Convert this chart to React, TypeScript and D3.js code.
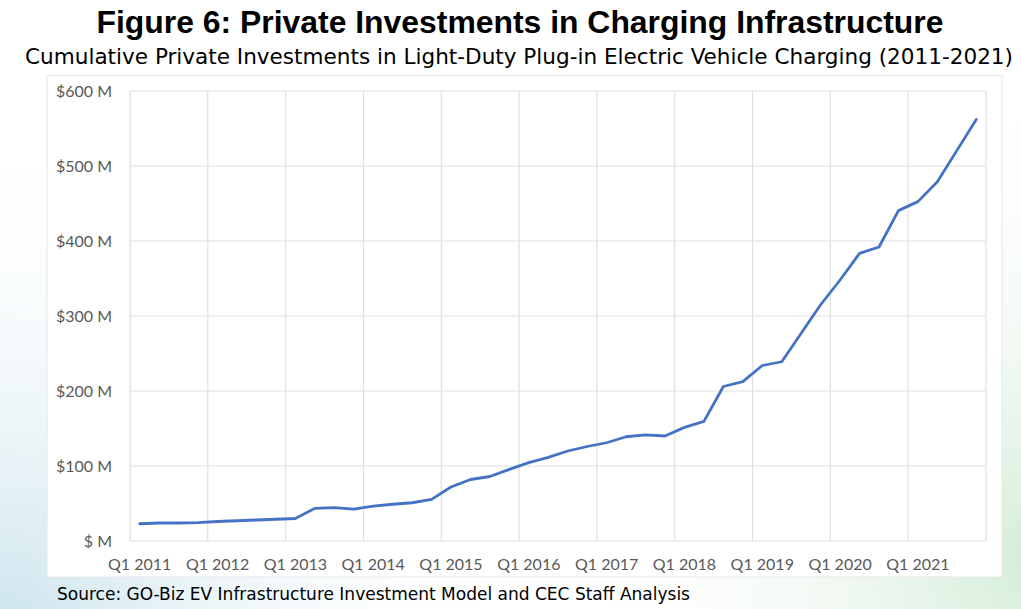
import React, { useEffect, useRef } from "react";
import * as d3 from "d3";

// Chart text
const title = "Figure 6: Private Investments in Charging Infrastructure";
const subtitle =
  "Cumulative Private Investments in Light-Duty Plug-in Electric Vehicle Charging (2011-2021)";
const source = "Source: GO-Biz EV Infrastructure Investment Model and CEC Staff Analysis";

// Years and quarters on the x axis
const years = [2011, 2012, 2013, 2014, 2015, 2016, 2017, 2018, 2019, 2020, 2021];
const quarters = ["Q1", "Q2", "Q3", "Q4"];

// Cumulative investment, $M, one value per quarter (Q1 2011 .. Q4 2021)
const investment = [
  23, 24, 24, 24.5,
  26, 27, 28, 29,
  30, 43.5, 44.5, 42.5,
  46.5, 49, 51, 55.5,
  72, 82, 86, 95.5,
  104.5, 111.5, 120, 126,
  131, 139, 141.5, 140,
  151.5, 159.5, 206, 212.5,
  234, 239, 277, 315,
  348, 383.5, 392, 440.5,
  452.5, 479, 520.5, 562,
];

// Y axis ticks
const yTicks = [0, 100, 200, 300, 400, 500, 600];

const App = () => {
  const ref = useRef<SVGSVGElement>(null);

  useEffect(() => {
    const width = 1021;
    const height = 609;

    const svg = d3.select(ref.current);
    svg.selectAll("*").remove();
    svg.attr("width", width).attr("height", height);

    // Soft page background (teal bottom-left, green right)
    const defs = svg.append("defs");
    const g1 = defs.append("radialGradient")
      .attr("id", "bgLeft")
      .attr("gradientUnits", "userSpaceOnUse")
      .attr("cx", 0).attr("cy", 640).attr("r", 520);
    g1.append("stop").attr("offset", "0%").attr("stop-color", "#c9e3ec").attr("stop-opacity", 1);
    g1.append("stop").attr("offset", "100%").attr("stop-color", "#ffffff").attr("stop-opacity", 0);
    const g2 = defs.append("radialGradient")
      .attr("id", "bgRight")
      .attr("gradientUnits", "userSpaceOnUse")
      .attr("cx", 1040).attr("cy", 560).attr("r", 480);
    g2.append("stop").attr("offset", "0%").attr("stop-color", "#d3ecd8").attr("stop-opacity", 1);
    g2.append("stop").attr("offset", "100%").attr("stop-color", "#ffffff").attr("stop-opacity", 0);

    svg.append("rect").attr("width", width).attr("height", height).attr("fill", "#ffffff");
    svg.append("rect").attr("width", width).attr("height", height).attr("fill", "url(#bgLeft)");
    svg.append("rect").attr("width", width).attr("height", height).attr("fill", "url(#bgRight)");

    // Titles
    svg.append("text")
      .attr("x", 520).attr("y", 33)
      .attr("text-anchor", "middle")
      .attr("font-family", "'Liberation Sans', Arial, sans-serif")
      .attr("font-weight", "bold")
      .attr("font-size", 31)
      .attr("textLength", 847)
      .attr("lengthAdjust", "spacingAndGlyphs")
      .attr("fill", "#000")
      .text(title);

    svg.append("text")
      .attr("x", 519).attr("y", 64)
      .attr("text-anchor", "middle")
      .attr("font-family", "'DejaVu Sans Condensed', 'DejaVu Sans', sans-serif")
      .attr("font-size", 21.5)
      .attr("textLength", 988)
      .attr("lengthAdjust", "spacingAndGlyphs")
      .attr("fill", "#000")
      .text(subtitle);

    // Chart box
    svg.append("rect")
      .attr("x", 47).attr("y", 75.5)
      .attr("width", 955).attr("height", 501.5)
      .attr("fill", "#ffffff")
      .attr("stroke", "#e6e6e6")
      .attr("stroke-width", 1);

    const left = 130, right = 986, top = 91, bottom = 541;

    const labels = years.flatMap(y => quarters.map(q => `${q} ${y}`));
    const x = d3.scaleBand<string>().domain(labels).range([left, right]).padding(0);
    const y = d3.scaleLinear().domain([0, 600]).range([bottom, top]);

    const grid = svg.append("g");
    // horizontal gridlines
    grid.selectAll("line.h")
      .data(yTicks)
      .enter()
      .append("line")
      .attr("x1", left).attr("x2", right)
      .attr("y1", d => y(d)).attr("y2", d => y(d))
      .attr("stroke", "#e0e0e0")
      .attr("stroke-width", 1.2);

    // vertical gridlines at each year boundary
    const yearEdges = years.map(yr => x(`Q1 ${yr}`) as number).concat([right]);
    grid.selectAll("line.v")
      .data(yearEdges)
      .enter()
      .append("line")
      .attr("x1", d => d).attr("x2", d => d)
      .attr("y1", top).attr("y2", bottom)
      .attr("stroke", "#e0e0e0")
      .attr("stroke-width", 1.2);

    // y labels
    svg.append("g").selectAll("text")
      .data(yTicks)
      .enter()
      .append("text")
      .attr("x", 112)
      .attr("y", d => y(d))
      .attr("dy", "0.35em")
      .attr("text-anchor", "end")
      .attr("font-family", "Lato, 'Open Sans', sans-serif")
      .attr("font-size", 16)
      .attr("fill", "#595959")
      .text(d => (d === 0 ? "$ M" : `$${d} M`));

    // x labels under the first quarter of each year
    svg.append("g").selectAll("text")
      .data(years)
      .enter()
      .append("text")
      .attr("x", d => (x(`Q1 ${d}`) as number) + x.bandwidth() / 2)
      .attr("y", 564)
      .attr("dy", "0.35em")
      .attr("text-anchor", "middle")
      .attr("font-family", "Lato, 'Open Sans', sans-serif")
      .attr("font-size", 16)
      .attr("fill", "#595959")
      .text(d => `Q1 ${d}`);

    // Line
    const line = d3.line<number>()
      .x((_, i) => (x(labels[i]) as number) + x.bandwidth() / 2)
      .y(d => y(d));

    svg.append("path")
      .datum(investment)
      .attr("d", line)
      .attr("fill", "none")
      .attr("stroke", "#4472c4")
      .attr("stroke-width", 2.8)
      .attr("stroke-linejoin", "round")
      .attr("stroke-linecap", "round");

    // Source note
    svg.append("text")
      .attr("x", 57).attr("y", 600)
      .attr("font-family", "'DejaVu Sans Condensed', 'DejaVu Sans', sans-serif")
      .attr("font-size", 18.5)
      .attr("textLength", 633)
      .attr("lengthAdjust", "spacingAndGlyphs")
      .attr("fill", "#000")
      .text(source);
  }, []);

  return (
    <svg
      ref={ref}
      style={{ position: "absolute", left: 0, top: 0, display: "block" }}
    ></svg>
  );
};

export default App;
